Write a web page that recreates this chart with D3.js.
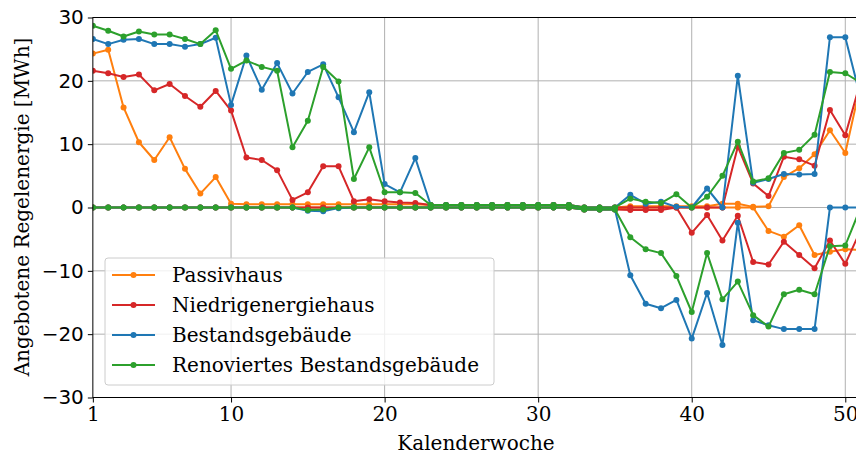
<!DOCTYPE html>
<html>
<head>
<meta charset="utf-8">
<script src="https://cdn.jsdelivr.net/npm/d3@7"></script>
<style>
  body { margin: 0; background: #fff; }
  svg { display: block; }
</style>
</head>
<body>
<svg id="chart" width="856" height="456"></svg>
<script>
// Kalenderwochen 1..51
const weeks = d3.range(1, 52);

const seriesNames = ['Passivhaus', 'Niedrigenergiehaus', 'Bestandsgebäude', 'Renoviertes Bestandsgebäude'];
const seriesColors = ['#ff7f0e', '#d62728', '#1f77b4', '#2ca02c'];

// positive Regelenergie
const passivPos = [24.3, 24.9, 15.8, 10.3, 7.5, 11.1, 6.1, 2.2, 4.8, 0.6,
  0.5, 0.5, 0.5, 0.5, 0.5, 0.5, 0.5, 0.5, 0.5, 0.5,
  0.5, 0.5, 0.4, 0.4, 0.4, 0.4, 0.4, 0.4, 0.4, 0.4,
  0.4, 0.4, 0, 0, 0, 0.2, 0.2, 0.2, 0.2, 0.2,
  0.2, 0.6, 0.6, 0.1, 0.2, 4.8, 6.2, 8.4, 12.2, 8.6, 19.5];
const niedrigPos = [21.6, 21.2, 20.6, 21.0, 18.5, 19.5, 17.6, 15.9, 18.4, 15.3,
  7.9, 7.5, 5.9, 1.2, 2.4, 6.5, 6.5, 1.0, 1.3, 1.0,
  0.8, 0.7, 0.4, 0.4, 0.4, 0.4, 0.4, 0.4, 0.4, 0.4,
  0.4, 0.4, 0, 0, 0, 0, 0, 0, 0, 0,
  0, 0, 9.6, 3.8, 1.8, 8.0, 7.6, 6.6, 15.4, 11.4, 19.9];
const bestandPos = [26.6, 25.8, 26.5, 26.6, 25.8, 25.8, 25.4, 25.8, 26.8, 16.2,
  24.0, 18.6, 22.8, 18.0, 21.4, 22.6, 17.4, 11.9, 18.2, 3.7,
  2.4, 7.8, 0.4, 0.4, 0.4, 0.4, 0.4, 0.4, 0.4, 0.4,
  0.4, 0.4, 0, 0, 0, 2.0, 0.6, 0.9, 0.1, 0,
  3.0, 0, 20.8, 3.9, 4.5, 5.3, 5.2, 5.3, 26.9, 26.9, 17.3];
const renoviertPos = [28.7, 27.9, 27.0, 27.8, 27.3, 27.3, 26.6, 25.8, 28.0, 21.9,
  23.2, 22.2, 21.6, 9.5, 13.7, 22.2, 19.9, 4.5, 9.5, 2.4,
  2.4, 2.3, 0.4, 0.4, 0.4, 0.4, 0.4, 0.4, 0.4, 0.4,
  0.4, 0.4, 0, 0, 0, 1.4, 0.9, 0.7, 2.1, 0,
  1.7, 5.0, 10.4, 4.1, 4.6, 8.6, 9.1, 11.5, 21.4, 21.2, 19.7];

// negative Regelenergie
const passivNeg = [0, 0, 0, 0, 0, 0, 0, 0, 0, 0,
  0, 0, 0, 0, 0, 0, 0, 0, 0, 0,
  0, 0, 0, 0, 0, 0, 0, 0, 0, 0,
  0, 0, -0.3, -0.3, -0.3, 0, 0, 0, 0, 0,
  0, 0, 0, 0, -3.7, -4.6, -2.8, -7.5, -7.0, -6.6, -6.7];
const niedrigNeg = [0, 0, 0, 0, 0, 0, 0, 0, 0, 0,
  0, 0, 0, 0, 0, 0, 0, 0, 0, 0,
  0, 0, 0, 0, 0, 0, 0, 0, 0, 0,
  0, 0, -0.3, -0.3, -0.3, -0.4, -0.4, -0.4, 0, -4.0,
  -1.2, -5.2, -1.3, -8.6, -9.0, -5.4, -7.5, -9.6, -5.2, -8.9, -3.6];
const bestandNeg = [0, 0, 0, 0, 0, 0, 0, 0, 0, 0,
  0, 0, 0, 0, -0.5, -0.6, -0.1, 0, 0, 0,
  0, 0, 0, 0, 0, 0, 0, 0, 0, 0,
  0, 0, -0.3, -0.3, -0.3, -10.7, -15.2, -15.9, -14.6, -20.7,
  -13.5, -21.7, -2.4, -17.8, -18.6, -19.2, -19.2, -19.2, 0, 0, 0];
const renoviertNeg = [0, 0, 0, 0, 0, 0, 0, 0, 0, 0,
  0, 0, 0, 0, -0.4, -0.3, 0, 0, 0, 0,
  0, 0, 0, 0, 0, 0, 0, 0, 0, 0,
  0, 0, -0.3, -0.3, -0.3, -4.7, -6.6, -7.2, -10.8, -16.5,
  -7.2, -14.5, -11.7, -17.0, -18.8, -13.7, -13.0, -13.7, -6.1, -6.0, 0];

const xTicks = [1, 10, 20, 30, 40, 50];
const yTicks = [-30, -20, -10, 0, 10, 20, 30];

const posValues = [passivPos, niedrigPos, bestandPos, renoviertPos];
const negValues = [passivNeg, niedrigNeg, bestandNeg, renoviertNeg];

const width = 856, height = 456;
const margin = { top: 17.5, right: -20, bottom: 58.5, left: 92.85 };
const innerW = width - margin.left - margin.right;
const innerH = height - margin.top - margin.bottom;

const svg = d3.select('#chart');
const g = svg.append('g')
  .attr('transform', 'translate(' + margin.left + ',' + margin.top + ')');

const x = d3.scaleLinear().domain([1, 52]).range([0, innerW]);
const y = d3.scaleLinear().domain([-30, 30]).range([innerH, 0]);

const serif = 'DejaVu Serif, serif';
const sans = 'DejaVu Sans, sans-serif';
const fs = 20;

g.append('clipPath').attr('id', 'clip')
  .append('rect').attr('width', innerW).attr('height', innerH);

// grid
g.append('g').selectAll('line').data(xTicks.slice(1)).join('line')
  .attr('x1', d => x(d)).attr('x2', d => x(d))
  .attr('y1', 0).attr('y2', innerH)
  .attr('stroke', '#b0b0b0').attr('stroke-width', 1);
g.append('g').selectAll('line').data(yTicks.slice(1, -1)).join('line')
  .attr('x1', 0).attr('x2', innerW)
  .attr('y1', d => y(d)).attr('y2', d => y(d))
  .attr('stroke', '#b0b0b0').attr('stroke-width', 1);

// lines
const line = d3.line().x(d => x(d[0])).y(d => y(d[1]));
const plot = g.append('g').attr('clip-path', 'url(#clip)');

seriesNames.forEach((name, i) => {
  [posValues[i], negValues[i]].forEach(vals => {
    const pts = weeks.map((w, j) => [w, vals[j]]);
    plot.append('path')
      .datum(pts)
      .attr('fill', 'none')
      .attr('stroke', seriesColors[i])
      .attr('stroke-width', 2)
      .attr('stroke-linejoin', 'round')
      .attr('d', line);
    plot.append('g').selectAll('circle').data(pts).join('circle')
      .attr('cx', d => x(d[0]))
      .attr('cy', d => y(d[1]))
      .attr('r', 3)
      .attr('fill', seriesColors[i]);
  });
});

// axes
const xAxis = g.append('g')
  .attr('transform', 'translate(0,' + innerH + ')')
  .call(d3.axisBottom(x).tickValues(xTicks).tickSize(5).tickPadding(4).tickFormat(d3.format('d')));
xAxis.selectAll('text').attr('font-family', serif).attr('font-size', fs).attr('fill', '#000');

const yAxis = g.append('g')
  .call(d3.axisLeft(y).tickValues(yTicks).tickSize(5).tickPadding(4)
    .tickFormat(d => d < 0 ? '\u2212' + Math.abs(d) : d));
yAxis.selectAll('text').attr('font-family', sans).attr('font-size', fs).attr('fill', '#000');

[xAxis, yAxis].forEach(a => {
  a.select('.domain').remove();
  a.selectAll('line').attr('stroke', '#000');
});

// spines
g.append('rect')
  .attr('width', innerW).attr('height', innerH)
  .attr('fill', 'none').attr('stroke', '#000').attr('stroke-width', 1);

// axis labels
svg.append('text')
  .attr('x', 476).attr('y', 450)
  .attr('text-anchor', 'middle')
  .attr('font-family', serif).attr('font-size', fs)
  .text('Kalenderwoche');

svg.append('text')
  .attr('transform', 'translate(29,207) rotate(-90)')
  .attr('text-anchor', 'middle')
  .attr('font-family', serif).attr('font-size', fs)
  .text('Angebotene Regelenergie [MWh]');

// legend
const legend = svg.append('g').attr('transform', 'translate(105,258)');
legend.append('rect')
  .attr('width', 389).attr('height', 127).attr('rx', 3)
  .attr('fill', '#fff').attr('fill-opacity', 0.8)
  .attr('stroke', '#cccccc');
seriesNames.forEach((name, i) => {
  const ly = 17 + i * 30;
  legend.append('line')
    .attr('x1', 7).attr('x2', 50).attr('y1', ly).attr('y2', ly)
    .attr('stroke', seriesColors[i]).attr('stroke-width', 2);
  legend.append('circle')
    .attr('cx', 28.5).attr('cy', ly).attr('r', 3)
    .attr('fill', seriesColors[i]);
  legend.append('text')
    .attr('x', 67).attr('y', ly + 7)
    .attr('font-family', serif).attr('font-size', fs)
    .text(name);
});
</script>
</body>
</html>
